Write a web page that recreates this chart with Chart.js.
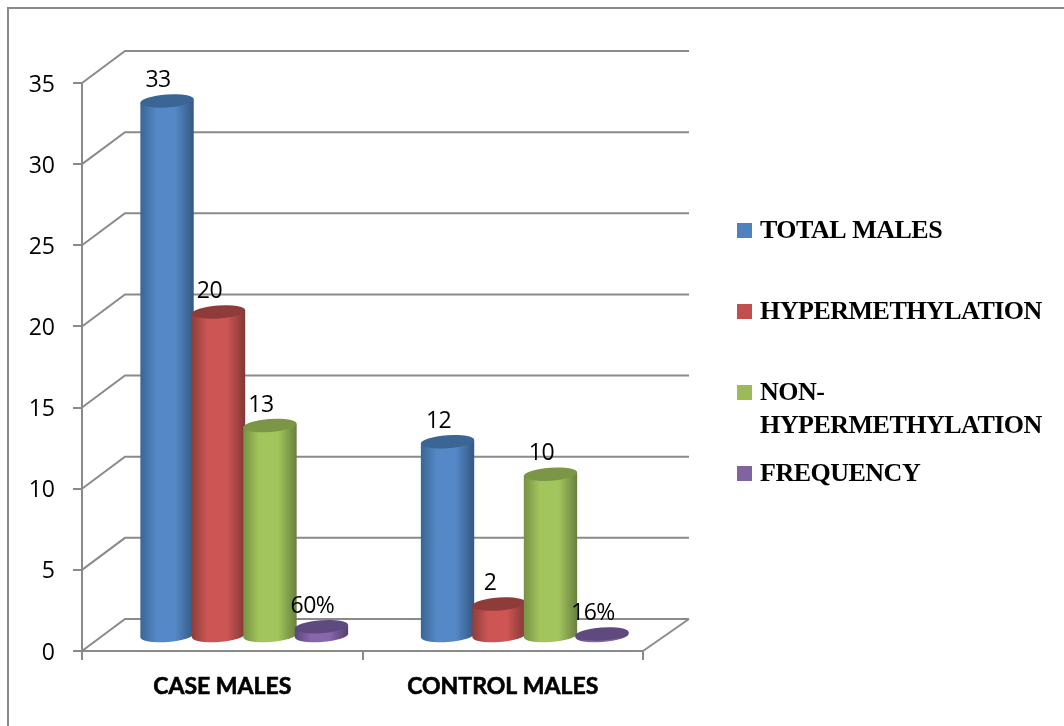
<!DOCTYPE html>
<html lang="en">
<head>
  <meta charset="UTF-8" />
  <title>Males: case vs control</title>
  <script src="https://cdn.jsdelivr.net/npm/chart.js"></script>
  <style>
    body { margin: 0; background: #fff; }
    .wrap { position: relative; width: 1064px; height: 726px; overflow: hidden; }
    .frame {
      position: absolute; left: 7px; top: 7px; width: 1100px; height: 800px;
      border-left: 2px solid #8a8a8a; border-top: 2px solid #8a8a8a;
    }
    canvas { position: absolute; left: 0; top: 0; }
  </style>
</head>
<body>
<div class="wrap">
  <div class="frame"></div>
  <canvas id="maleChart" width="1064" height="726"></canvas>
</div>

<script>
  const categories = ["CASE MALES", "CONTROL MALES"];
  const totalMales = [33, 12];
  const hypermethylation = [20, 2];
  const nonHypermethylation = [13, 10];
  const frequency = [0.6, 0.16];
  const yTicks = [0, 5, 10, 15, 20, 25, 30, 35];
  const legendLines = [["TOTAL MALES"], ["HYPERMETHYLATION"], ["NON-", "HYPERMETHYLATION"], ["FREQUENCY"]];

  const AXIS = "#8a8a8a";
  const WALL_DX = 43, WALL_DY = -32;   // back wall offset
  const DEPTH_DX = 22, DEPTH_DY = -14.5; // cylinders stand mid way on the floor
  const TILT = -4 * Math.PI / 180;

  // edge, mid, dark edge, cap
  const shades = [
    ["#3a6595", "#5488c6", "#345882", "#3a6595"],
    ["#8f3d3b", "#cd5655", "#823735", "#8f3b3a"],
    ["#769243", "#a3c55d", "#68803e", "#7c9647"],
    ["#5a4679", "#8866ae", "#54416f", "#5f4a80"]
  ];

  function drawCylinder(ctx, bar, colors) {
    const cx = bar.x + DEPTH_DX;
    const rx = bar.width / 2 + 1;
    const ry = 6.5;
    const top = bar.y + DEPTH_DY;
    const bottom = bar.base + DEPTH_DY;
    const endX = rx * Math.cos(TILT), endY = rx * Math.sin(TILT);

    const grad = ctx.createLinearGradient(cx - rx, 0, cx + rx, 0);
    grad.addColorStop(0, colors[0]);
    grad.addColorStop(0.3, colors[1]);
    grad.addColorStop(0.65, colors[1]);
    grad.addColorStop(1, colors[2]);

    ctx.beginPath();
    ctx.ellipse(cx, bottom, rx, ry, TILT, 0, Math.PI);
    ctx.lineTo(cx - endX, top - endY);
    ctx.lineTo(cx + endX, top + endY);
    ctx.closePath();
    ctx.fillStyle = grad;
    ctx.fill();

    ctx.beginPath();
    ctx.ellipse(cx, top, rx, ry, TILT, 0, Math.PI * 2);
    ctx.fillStyle = colors[3];
    ctx.fill();
  }

  const cylinders = {
    id: "cylinders",
    // native flat bars are replaced by the cylinders below
    beforeDatasetDraw() { return false; },
    beforeDatasetsDraw(chart) {
      const ctx = chart.ctx, y = chart.scales.y, area = chart.chartArea;
      ctx.save();
      ctx.strokeStyle = AXIS;
      ctx.lineWidth = 2;
      yTicks.forEach(t => {
        const py = y.getPixelForValue(t);
        ctx.beginPath();
        ctx.moveTo(area.left, py);
        ctx.lineTo(area.left + WALL_DX, py + WALL_DY);
        ctx.lineTo(area.right + WALL_DX + 3, py + WALL_DY);
        ctx.stroke();
      });
      // right edge of the floor
      ctx.beginPath();
      ctx.moveTo(area.right, area.bottom);
      ctx.lineTo(area.right + WALL_DX + 3, area.bottom + WALL_DY);
      ctx.stroke();
      ctx.restore();
    },
    afterDatasetsDraw(chart) {
      const ctx = chart.ctx;
      ctx.save();
      chart.data.datasets.forEach((ds, i) => {
        chart.getDatasetMeta(i).data.forEach(bar => {
          const p = bar.getProps(["x", "y", "base", "width"], true);
          drawCylinder(ctx, p, shades[i]);
        });
      });
      // value labels go on top of every cylinder
      ctx.fillStyle = "#000";
      ctx.font = "23px 'Open Sans'";
      ctx.letterSpacing = "-0.5px";
      ctx.textAlign = "center";
      ctx.textBaseline = "middle";
      chart.data.datasets.forEach((ds, i) => {
        chart.getDatasetMeta(i).data.forEach((bar, j) => {
          const v = ds.data[j];
          const text = ds.label === "FREQUENCY" ? Math.round(v * 100) + "%" : String(v);
          ctx.fillText(text, bar.x + DEPTH_DX - 9, bar.y + DEPTH_DY - 20.5);
        });
      });
      ctx.restore();
      drawLegend(chart);
    }
  };

  function drawLegend(chart) {
    const ctx = chart.ctx;
    const rowY = [230, 311, 392, 473];
    ctx.save();
    ctx.font = "bold 26px 'Liberation Serif'";
    ctx.letterSpacing = "-0.5px";
    ctx.textAlign = "left";
    ctx.textBaseline = "middle";
    chart.data.datasets.forEach((ds, i) => {
      ctx.fillStyle = ds.backgroundColor;
      ctx.fillRect(737, rowY[i] - 7, 15, 15);
      ctx.fillStyle = "#000";
      legendLines[i].forEach((line, k) => {
        ctx.fillText(line, 760, rowY[i] + 1 + k * 33);
      });
    });
    ctx.restore();
  }

  new Chart(document.getElementById("maleChart"), {
    type: "bar",
    data: {
      labels: categories,
      datasets: [
        { label: "TOTAL MALES", data: totalMales, backgroundColor: "#4f81bd" },
        { label: "HYPERMETHYLATION", data: hypermethylation, backgroundColor: "#c0504d" },
        { label: "NON-HYPERMETHYLATION", data: nonHypermethylation, backgroundColor: "#9bbb59" },
        { label: "FREQUENCY", data: frequency, backgroundColor: "#8064a2" }
      ]
    },
    options: {
      responsive: false,
      animation: false,
      layout: { padding: { left: 0, top: 83, right: 421, bottom: 0 } },
      plugins: { legend: { display: false }, tooltip: { enabled: false } },
      datasets: { bar: { categoryPercentage: 0.734, barPercentage: 1 } },
      scales: {
        x: {
          afterFit: s => { s.height = 75; },
          grid: { drawOnChartArea: false, color: AXIS, lineWidth: 2, tickLength: 9 },
          border: { color: AXIS, width: 2 },
          ticks: {
            color: "#000",
            font: { family: "Lato", size: 23, weight: "bold" },
            textStrokeColor: "#000",
            textStrokeWidth: 0.6,
            padding: 13,
            maxRotation: 0
          }
        },
        y: {
          min: 0,
          max: 35,
          afterFit: s => { s.width = 82; },
          afterBuildTicks: s => { s.ticks = yTicks.map(v => ({ value: v })); },
          grid: { drawOnChartArea: false, color: AXIS, lineWidth: 2, tickLength: 9 },
          border: { color: AXIS, width: 2 },
          ticks: { color: "#000", font: { family: "Open Sans", size: 23 }, padding: 18, labelOffset: 2 }
        }
      }
    },
    plugins: [cylinders]
  });
</script>
</body>
</html>
